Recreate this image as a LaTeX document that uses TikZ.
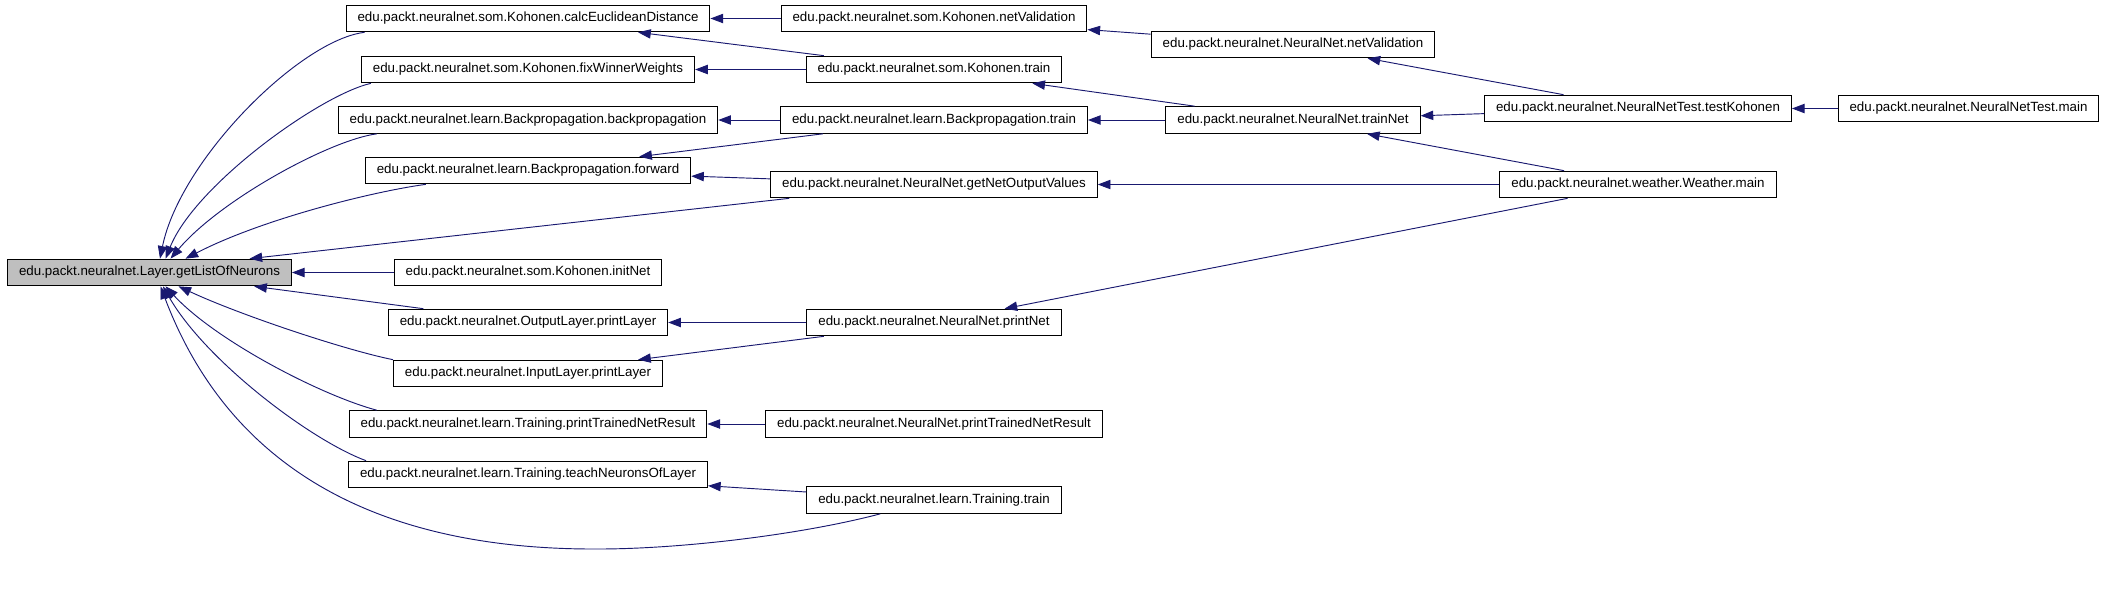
\documentclass[tikz,border=0pt]{standalone}
\usepackage{fontspec}
\setmainfont{Liberation Sans}
\usetikzlibrary{arrows.meta,calc}
\definecolor{callink}{HTML}{191970}
\definecolor{focusgray}{HTML}{BFBFBF}
\tikzset{fnbox/.style={draw=black,fill=white,line width=.75pt,inner xsep=8.6pt,inner ysep=0pt,minimum height=20pt,font=\fontsize{10pt}{12pt}\selectfont}, focusbox/.style={fnbox,fill=focusgray}, callline/.style={draw=callink,line width=.7pt,-{Triangle[length=9.5pt,width=7pt]}}}
\begin{document}
\begin{tikzpicture}[x=.75pt,y=-.75pt]
\useasboundingbox (0,0) rectangle (2106,590);
\node[focusbox] (layer) at (149.5,272.5) {edu.packt.neuralnet.Layer.getListOfNeurons};
\node[fnbox] (calcdist) at (528,18.5) {edu.packt.neuralnet.som.Kohonen.calcEuclideanDistance};
\node[fnbox] (fixwin) at (528,69.5) {edu.packt.neuralnet.som.Kohonen.fixWinnerWeights};
\node[fnbox] (backprop) at (528,120) {edu.packt.neuralnet.learn.Backpropagation.backpropagation};
\node[fnbox] (forward) at (528,170.5) {edu.packt.neuralnet.learn.Backpropagation.forward};
\node[fnbox] (initnet) at (528,272.5) {edu.packt.neuralnet.som.Kohonen.initNet};
\node[fnbox] (outlayer) at (528,322.5) {edu.packt.neuralnet.OutputLayer.printLayer};
\node[fnbox] (inlayer) at (528,373.5) {edu.packt.neuralnet.InputLayer.printLayer};
\node[fnbox] (trainres) at (528,424) {edu.packt.neuralnet.learn.Training.printTrainedNetResult};
\node[fnbox] (teachlayer) at (528,474.5) {edu.packt.neuralnet.learn.Training.teachNeuronsOfLayer};
\node[fnbox] (kvalid) at (934,18.5) {edu.packt.neuralnet.som.Kohonen.netValidation};
\node[fnbox] (ktrain) at (934,69.5) {edu.packt.neuralnet.som.Kohonen.train};
\node[fnbox] (bptrain) at (934,120) {edu.packt.neuralnet.learn.Backpropagation.train};
\node[fnbox] (netout) at (934,184.5) {edu.packt.neuralnet.NeuralNet.getNetOutputValues};
\node[fnbox] (printnet) at (934,322.5) {edu.packt.neuralnet.NeuralNet.printNet};
\node[fnbox] (netres) at (934,424) {edu.packt.neuralnet.NeuralNet.printTrainedNetResult};
\node[fnbox] (ttrain) at (934,500) {edu.packt.neuralnet.learn.Training.train};
\node[fnbox] (nnvalid) at (1293,44.5) {edu.packt.neuralnet.NeuralNet.netValidation};
\node[fnbox] (trainnet) at (1293,120) {edu.packt.neuralnet.NeuralNet.trainNet};
\node[fnbox] (testkoh) at (1638,108.5) {edu.packt.neuralnet.NeuralNetTest.testKohonen};
\node[fnbox] (weather) at (1638,184.5) {edu.packt.neuralnet.weather.Weather.main};
\node[fnbox] (testmain) at (1968.5,108.5) {edu.packt.neuralnet.NeuralNetTest.main};
\draw[callline] ($(calcdist.south west)+(19,0)$) .. controls (300,40) and (180,160) .. ($(layer.north)+(10.5,0)$);
\draw[callline] ($(fixwin.south west)+(10,0)$) .. controls (320,95) and (195,185) .. ($(layer.north)+(16,0)$);
\draw[callline] ($(backprop.south west)+(39,0)$) .. controls (330,140) and (220,200) .. ($(layer.north)+(21,0)$);
\draw[callline] ($(forward.south west)+(61,0)$) .. controls (370,192) and (260,220) .. ($(layer.north)+(36,0)$);
\draw[callline] ($(netout.south west)+(19,0)$) -- ($(layer.north)+(100,0)$);
\draw[callline] (initnet) -- (layer);
\draw[callline] (outlayer) -- (layer);
\draw[callline] (inlayer.north west) .. controls (345,350) and (240,315) .. ($(layer.south)+(29,0)$);
\draw[callline] ($(trainres.north west)+(28,0)$) .. controls (320,395) and (215,340) .. ($(layer.south)+(16,0)$);
\draw[callline] ($(teachlayer.north west)+(18,0)$) .. controls (310,440) and (205,360) .. ($(layer.south)+(13.5,0)$);
\draw[callline] ($(ttrain.south west)+(74,0)$) .. controls (800,535) and (680,549) .. (598,549) .. controls (380,550) and (230,470) .. ($(layer.south)+(11,0)$);
\draw[callline] (kvalid) -- (calcdist);
\draw[callline] (ktrain) -- (calcdist);
\draw[callline] (ktrain) -- (fixwin);
\draw[callline] (bptrain) -- (backprop);
\draw[callline] (bptrain) -- (forward);
\draw[callline] (netout) -- (forward);
\draw[callline] (printnet) -- (outlayer);
\draw[callline] (printnet) -- (inlayer);
\draw[callline] (netres) -- (trainres);
\draw[callline] (ttrain) -- (teachlayer);
\draw[callline] (nnvalid) -- (kvalid);
\draw[callline] (trainnet) -- (ktrain);
\draw[callline] (trainnet) -- (bptrain);
\draw[callline] (testkoh) -- (nnvalid);
\draw[callline] (testkoh) -- (trainnet);
\draw[callline] (weather) -- (trainnet);
\draw[callline] (weather) -- (netout);
\draw[callline] (weather) -- (printnet);
\draw[callline] (testmain) -- (testkoh);
\end{tikzpicture}
\end{document}
